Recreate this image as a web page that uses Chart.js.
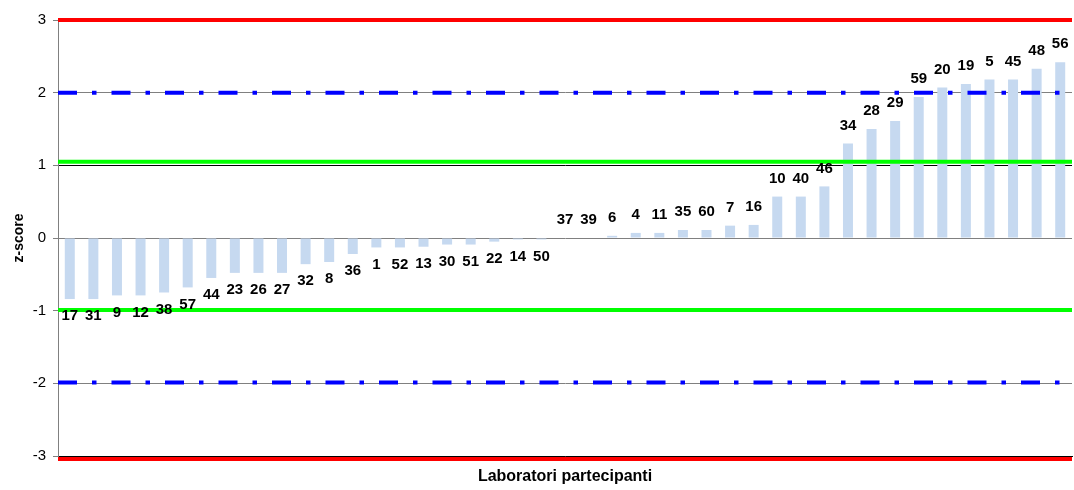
<!DOCTYPE html>
<html>
<head>
<meta charset="utf-8">
<script src="https://cdn.jsdelivr.net/npm/chart.js@4.4.1/dist/chart.umd.min.js"></script>
<style>
html,body{margin:0;padding:0;background:#ffffff;}
#wrap{width:1074px;height:490px;}
canvas{display:block;}
</style>
</head>
<body>
<div id="wrap"><canvas id="c" width="1074" height="490"></canvas></div>
<script>
// ---- data ----
const labs = ['17','31','9','12','38','57','44','23','26','27','32','8','36','1','52','13','30','51','22','14','50',
              '37','39','6','4','11','35','60','7','16','10','40','46','34','28','29','59','20','19','5','45','48','56'];
const zScores = [-0.84,-0.84,-0.79,-0.79,-0.75,-0.68,-0.55,-0.48,-0.48,-0.48,-0.36,-0.33,-0.22,-0.13,-0.13,-0.12,-0.09,-0.09,-0.05,-0.02,-0.02,
                 0.00,0.00,0.03,0.07,0.07,0.11,0.11,0.17,0.18,0.57,0.57,0.71,1.30,1.50,1.61,1.94,2.07,2.12,2.18,2.18,2.33,2.42];
const yTicks = [-3,-2,-1,0,1,2,3];
const refX = [0, 1];
const actionLimits = [3.0, -3.04];    // red
const warningLimits = [2.0, -1.99];   // blue dash-dot
const innerLimits = [1.05, -0.99];    // green

const FONT = '"Liberation Sans", Arial, Helvetica, sans-serif';

function refLine(value, color, dash) {
  return {
    type: 'line',
    xAxisID: 'x2',
    yAxisID: 'y',
    data: refX.map(x => ({x: x, y: value})),
    borderColor: color,
    borderWidth: 4,
    borderDash: dash || [],
    borderCapStyle: 'butt',
    pointRadius: 0,
    pointHoverRadius: 0,
    fill: false,
    clip: false,
    order: 1
  };
}

const labelPlugin = {
  id: 'barLabels',
  afterDatasetsDraw(chart) {
    const meta = chart.getDatasetMeta(0);
    const ctx = chart.ctx;
    ctx.save();
    ctx.font = 'bold 15px ' + FONT;
    ctx.fillStyle = '#000';
    ctx.textAlign = 'center';
    ctx.textBaseline = 'middle';
    meta.data.forEach((bar, i) => {
      const v = zScores[i];
      const y = v >= 0 ? bar.y - 18 : bar.y + 17;
      ctx.fillText(labs[i], bar.x, y);
    });
    ctx.restore();
  }
};

const datasets = [
  {
    type: 'bar',
    label: 'z-score',
    data: zScores,
    backgroundColor: '#c6d9f0',
    borderWidth: 0,
    grouped: false,
    barPercentage: 0.424,
    categoryPercentage: 1.0,
    order: 2
  },
  refLine(actionLimits[0], '#ff0000'),
  refLine(actionLimits[1], '#ff0000'),
  refLine(warningLimits[0], '#0000ff', [19, 15, 4.5, 15]),
  refLine(warningLimits[1], '#0000ff', [19, 15, 4.5, 15]),
  refLine(innerLimits[0], '#00ff00'),
  refLine(innerLimits[1], '#00ff00')
];

new Chart(document.getElementById('c'), {
  type: 'bar',
  data: { labels: labs, datasets: datasets },
  options: {
    responsive: false,
    animation: false,
    devicePixelRatio: 1,
    layout: { padding: { left: 0, right: 2, top: 20, bottom: 0 } },
    plugins: { legend: { display: false }, tooltip: { enabled: false } },
    scales: {
      x: {
        type: 'category',
        position: 'bottom',
        offset: true,
        grid: { display: false, drawTicks: false },
        ticks: { display: false },
        border: { display: true, color: '#000000', width: 1 },
        title: {
          display: true,
          text: 'Laboratori partecipanti',
          color: '#000',
          font: { family: FONT, size: 16, weight: 'bold' },
          padding: { top: 0, bottom: 4 }
        },
        afterFit(scale) { scale.height = 34; }
      },
      x2: {
        type: 'linear',
        display: false,
        offset: false,
        grid: { offset: false },
        min: 0,
        max: 1
      },
      y: {
        type: 'linear',
        position: 'left',
        min: yTicks[0],
        max: yTicks[yTicks.length - 1],
        afterBuildTicks(scale) { scale.ticks = yTicks.map(v => ({value: v})); },
        ticks: {
          color: '#000',
          font: { family: FONT, size: 15 },
          padding: 7,
          callback: v => String(v)
        },
        grid: {
          color: ctx => (ctx.tick && ctx.tick.value === 1) ? '#000000' : '#808080',
          lineWidth: 1,
          drawTicks: true,
          tickLength: 5,
          tickColor: '#808080'
        },
        border: { display: true, color: '#808080', width: 1 },
        title: {
          display: true,
          text: 'z-score',
          color: '#000',
          font: { family: FONT, size: 14, weight: 'bold' },
          padding: { top: 11, bottom: 0 }
        },
        afterFit(scale) { scale.width = 58; }
      }
    }
  },
  plugins: [labelPlugin]
});
</script>
</body>
</html>
